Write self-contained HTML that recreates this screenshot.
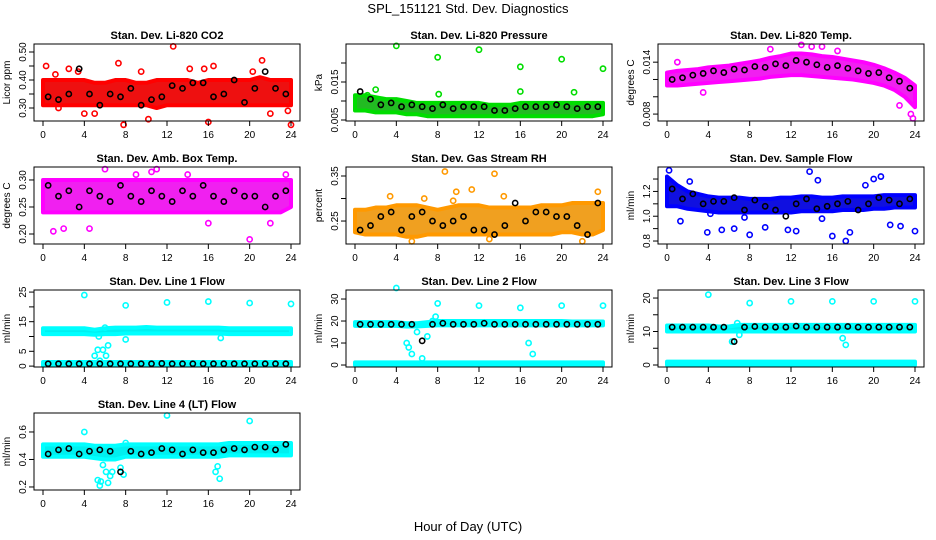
<!DOCTYPE html>
<html><head><meta charset="utf-8"><style>
body{margin:0;background:#fff}
svg{display:block;font-family:"Liberation Sans",Arial,sans-serif}
</style></head><body>
<svg id="c" width="936" height="540" viewBox="0 0 936 540" xmlns="http://www.w3.org/2000/svg">
<text x="468" y="13" text-anchor="middle" font-size="13">SPL_151121  Std. Dev. Diagnostics</text>
<text x="468" y="531" text-anchor="middle" font-size="13">Hour of Day (UTC)</text>
</svg>
<script>
const hours=[0,1,2,3,4,5,6,7,8,9,10,11,12,13,14,15,16,17,18,19,20,21,22,23,24];
const blackHours=[0.5,1.5,2.5,3.5,4.5,5.5,6.5,7.5,8.5,9.5,10.5,11.5,12.5,13.5,14.5,15.5,16.5,17.5,18.5,19.5,20.5,21.5,22.5,23.5];
const xTicks=[0,4,8,12,16,20,24];

const co2Lo=[0.31,0.31,0.31,0.31,0.31,0.31,0.31,0.31,0.31,0.31,0.31,0.30,0.31,0.31,0.31,0.31,0.31,0.31,0.31,0.31,0.31,0.31,0.31,0.31,0.31];
const co2Hi=[0.40,0.40,0.40,0.40,0.40,0.39,0.39,0.40,0.40,0.39,0.39,0.40,0.40,0.40,0.40,0.39,0.40,0.40,0.40,0.40,0.40,0.41,0.40,0.40,0.40];
const co2OutX=[0.3,1.2,2.5,3.4,7.3,7.8,9.5,10.2,12.6,14.2,15.6,16.0,16.5,21.2,20.3,22.0,24.0,4.0,5.0,1.5,23.7];
const co2OutY=[0.45,0.42,0.44,0.43,0.46,0.24,0.43,0.26,0.52,0.44,0.44,0.25,0.45,0.47,0.43,0.28,0.24,0.28,0.28,0.30,0.29];
const co2Black=[0.34,0.33,0.35,0.44,0.35,0.31,0.35,0.34,0.37,0.31,0.33,0.34,0.38,0.37,0.39,0.39,0.34,0.35,0.40,0.32,0.37,0.43,0.37,0.35];

const presLo=[0.0075,0.0075,0.007,0.007,0.007,0.0065,0.0065,0.006,0.006,0.006,0.006,0.006,0.006,0.006,0.006,0.006,0.006,0.006,0.006,0.006,0.006,0.006,0.006,0.006,0.0065];
const presHi=[0.0115,0.0115,0.011,0.0105,0.0105,0.010,0.0095,0.0095,0.0095,0.0095,0.0095,0.0095,0.0095,0.009,0.009,0.009,0.0095,0.0095,0.0095,0.0095,0.0095,0.0095,0.0095,0.0095,0.0095];
const presOutX=[4,8,12,16,20,24,2,16,21.2,8.1,1.2];
const presOutY=[0.0245,0.0215,0.0235,0.019,0.021,0.0185,0.013,0.0125,0.0123,0.0118,0.0115];
const presBlack=[0.0125,0.0105,0.009,0.0095,0.0085,0.009,0.0085,0.008,0.009,0.008,0.0085,0.0085,0.0085,0.0075,0.0075,0.008,0.0085,0.0085,0.0085,0.009,0.0085,0.008,0.0085,0.0085];

const tempLo=[0.0113,0.0113,0.0114,0.0115,0.0116,0.0117,0.0118,0.0119,0.0120,0.0121,0.0123,0.0124,0.0125,0.0125,0.0124,0.0123,0.0122,0.0121,0.0120,0.0118,0.0116,0.0113,0.0108,0.0100,0.0088];
const tempHi=[0.0128,0.0130,0.0131,0.0132,0.0134,0.0135,0.0136,0.0138,0.0140,0.0142,0.0145,0.0147,0.0150,0.0150,0.0149,0.0147,0.0146,0.0144,0.0142,0.0140,0.0137,0.0133,0.0128,0.0122,0.0113];
const tempOutX=[13,15,23.8,22.5,3.5,10,16.5,1,14,23.6];
const tempOutY=[0.0160,0.0158,0.0075,0.0090,0.0105,0.0155,0.0153,0.0140,0.0158,0.0080];
const tempBlack=[0.0120,0.0122,0.0125,0.0127,0.0130,0.0128,0.0132,0.0131,0.0135,0.0134,0.0138,0.0136,0.0142,0.0140,0.0137,0.0134,0.0136,0.0133,0.0130,0.0127,0.0128,0.0122,0.0118,0.0110];

const ambLo=[0.24,0.24,0.24,0.24,0.24,0.24,0.24,0.24,0.24,0.24,0.24,0.24,0.24,0.24,0.24,0.24,0.24,0.24,0.24,0.24,0.24,0.24,0.24,0.24,0.25];
const ambHi=[0.30,0.30,0.30,0.30,0.30,0.30,0.30,0.30,0.30,0.30,0.30,0.30,0.30,0.30,0.30,0.30,0.30,0.30,0.30,0.30,0.30,0.30,0.30,0.30,0.30];
const ambOutX=[20,1,11,9,2,4.5,22,16,6,14,23.5,10.5];
const ambOutY=[0.19,0.205,0.32,0.31,0.21,0.21,0.22,0.22,0.32,0.31,0.31,0.315];
const ambBlack=[0.29,0.27,0.28,0.25,0.28,0.27,0.26,0.29,0.27,0.26,0.28,0.27,0.26,0.28,0.27,0.29,0.27,0.26,0.28,0.27,0.27,0.25,0.27,0.28];

const rhLo=[0.225,0.22,0.22,0.22,0.22,0.215,0.215,0.22,0.22,0.22,0.22,0.22,0.22,0.22,0.22,0.22,0.22,0.22,0.22,0.22,0.225,0.225,0.22,0.22,0.23];
const rhHi=[0.275,0.275,0.28,0.28,0.285,0.285,0.285,0.28,0.275,0.28,0.285,0.285,0.285,0.28,0.28,0.28,0.28,0.28,0.285,0.285,0.285,0.29,0.29,0.29,0.29];
const rhOutX=[8.7,13.5,11.3,9.8,23.5,9.5,3.4,5.5,13,22,6.7,14.4];
const rhOutY=[0.36,0.355,0.32,0.315,0.315,0.295,0.305,0.205,0.21,0.205,0.30,0.305];
const rhBlack=[0.23,0.24,0.26,0.27,0.23,0.26,0.27,0.25,0.24,0.25,0.26,0.23,0.23,0.22,0.24,0.29,0.25,0.27,0.27,0.26,0.26,0.24,0.22,0.29];

const flowLo=[1.08,1.08,1.06,1.05,1.04,1.03,1.03,1.03,1.03,1.03,1.03,1.03,1.03,1.04,1.04,1.04,1.04,1.05,1.05,1.05,1.06,1.06,1.07,1.07,1.07];
const flowHi=[1.32,1.25,1.2,1.18,1.16,1.15,1.15,1.15,1.14,1.14,1.14,1.15,1.15,1.16,1.16,1.15,1.15,1.16,1.16,1.16,1.16,1.17,1.17,1.17,1.17];
const flowOutX=[1.3,3.9,5.3,6.5,8,9.5,11.7,12.5,13.8,16,17.3,17.7,20,20.7,21.6,22.6,24,0.2,4.2,7.5,15,19.2,2.2,14.6];
const flowOutY=[0.96,0.87,0.89,0.90,0.85,0.91,0.89,0.88,1.36,0.84,0.80,0.87,1.30,1.32,0.93,0.92,0.88,1.37,1.02,0.99,0.98,1.25,1.28,1.29];
const flowBlack=[1.22,1.14,1.18,1.10,1.12,1.12,1.15,1.05,1.13,1.08,1.05,1.00,1.10,1.14,1.06,1.08,1.10,1.12,1.05,1.10,1.15,1.13,1.10,1.14];

const l1Lo=[10.8,10.8,10.8,10.8,10.8,10.6,10.8,10.8,11,11,11,11,11,11,11,11,11,11,10.8,10.8,10.8,10.8,10.8,10.8,10.8];
const l1Hi=[12.8,12.8,12.8,12.8,12.8,12.3,12.8,13,13,13,13.2,13,13,13,13,13,13,13,12.8,12.8,12.8,12.8,12.8,12.8,12.8];
const l1Lo2=[0.2,0.2,0.2,0.2,0.2,0.2,0.2,0.2,0.2,0.2,0.2,0.2,0.2,0.2,0.2,0.2,0.2,0.2,0.2,0.2,0.2,0.2,0.2,0.2,0.2];
const l1Hi2=[1.4,1.4,1.4,1.4,1.4,1.4,1.4,1.4,1.4,1.4,1.4,1.4,1.4,1.4,1.4,1.4,1.4,1.4,1.4,1.4,1.4,1.4,1.4,1.4,1.4];
const l1OutX=[4,8,12,16,20,24,5,5.3,5.8,6.3,6.1,5.4,8,17.2,6,5.5];
const l1OutY=[24,20.5,21.5,21.8,21.3,21,3.5,5.5,5.5,7,3.5,10,9,9.5,13,1.8];
const l1Black=[0.8,0.8,0.8,0.8,0.8,0.8,0.8,0.8,0.8,0.8,0.8,0.9,0.8,0.8,0.8,0.8,0.8,0.8,0.8,0.8,0.8,0.8,0.8,0.8];

const l2Lo=[17.8,17.8,17.8,17.8,17.8,17.5,17.5,17.8,18,18,18,18,18,18,18,18,18,18,18,18,18,18,18,18,18];
const l2Hi=[19.5,19.5,19.5,19.5,19.5,19,19,19.5,20,20,20,20,20,20,20,20,20,20,20,20,20,19.8,19.8,19.8,19.8];
const l2Lo2=[0,0,0,0,0,0,0,0,0,0,0,0,0,0,0,0,0,0,0,0,0,0,0,0,0];
const l2Hi2=[1.2,1.2,1.2,1.2,1.2,1.2,1.2,1.2,1.2,1.2,1.2,1.2,1.2,1.2,1.2,1.2,1.2,1.2,1.2,1.2,1.2,1.2,1.2,1.2,1.2];
const l2OutX=[4,8,12,16,20,24,5,5.5,6,7.5,16.8,17.2,6.5,5.2,7.8,7];
const l2OutY=[35,28,27,26,27,27,10,5,15,20,10,5,3,8,22,13];
const l2Black=[18.5,18.5,18.5,18.5,18.5,18.5,11,18.5,19,18.5,18.5,18.5,19,18.5,18.5,18.5,18.5,18.5,18.5,18.5,18.5,18.5,18.5,18.5];

const l3Lo=[10,10,10,10,10,10,10,10,10,10,10,10,10,10,10,10,10,10,10,10,10,10,10,10,10];
const l3Hi=[11.8,11.8,11.8,11.8,11.8,11.5,11.5,12,12,12,12,12,12,12,12,12,12,12,12,12,12,12,12,12,12];
const l3Lo2=[0,0,0,0,0,0,0,0,0,0,0,0,0,0,0,0,0,0,0,0,0,0,0,0,0];
const l3Hi2=[1,1,1,1,1,1,1,1,1,1,1,1,1,1,1,1,1,1,1,1,1,1,1,1,1];
const l3OutX=[4,8,12,16,20,24,6.3,7,17,6.8,17.3];
const l3OutY=[21,18.5,19,19,19,19,7,9,8,12.5,6];
const l3Black=[11.3,11.3,11.3,11.3,11.3,11.3,7,11.3,11.5,11.3,11.3,11.3,11.6,11.3,11.3,11.3,11.3,11.5,11.3,11.3,11.3,11.3,11.3,11.3];

const l4Lo=[0.42,0.42,0.42,0.42,0.42,0.41,0.40,0.40,0.42,0.42,0.42,0.42,0.42,0.42,0.42,0.42,0.42,0.42,0.43,0.43,0.43,0.43,0.43,0.43,0.43];
const l4Hi=[0.51,0.51,0.51,0.51,0.51,0.50,0.50,0.50,0.51,0.51,0.51,0.51,0.51,0.51,0.51,0.51,0.51,0.51,0.52,0.52,0.52,0.52,0.52,0.52,0.52];
const l4OutX=[5.3,5.5,5.6,6.1,6.3,6.5,6.7,7.8,16.7,16.9,17.1,4,12,20,5.8,7.5,8];
const l4OutY=[0.25,0.21,0.24,0.31,0.23,0.28,0.31,0.29,0.31,0.35,0.26,0.60,0.72,0.68,0.36,0.34,0.52];
const l4Black=[0.44,0.47,0.48,0.44,0.46,0.47,0.46,0.31,0.46,0.44,0.45,0.48,0.47,0.44,0.47,0.45,0.45,0.47,0.48,0.47,0.49,0.49,0.47,0.51];

const panels=[
 {name:"co2",title:"Stan. Dev. Li-820 CO2",ylab:"Licor ppm",col:0,row:0,ymin:0.2536,ymax:0.5286,ticks:[0.30,0.35,0.40,0.45,0.50],labels:["0.30","","0.40","","0.50"],color:"#ff0000",band:"#ee1010",lo:co2Lo,hi:co2Hi,ox:co2OutX,oy:co2OutY,bk:co2Black},
 {name:"pressure",title:"Stan. Dev. Li-820 Pressure",ylab:"kPa",col:1,row:0,ymin:0.00474,ymax:0.0250,ticks:[0.005,0.010,0.015,0.020],labels:["0.005","","0.015",""],color:"#00dd00",band:"#22bb22",lo:presLo,hi:presHi,ox:presOutX,oy:presOutY,bk:presBlack},
 {name:"temp",title:"Stan. Dev. Li-820 Temp.",ylab:"degrees C",col:2,row:0,ymin:0.0072,ymax:0.0161,ticks:[0.008,0.010,0.012,0.014],labels:["0.008","","","0.014"],color:"#ff00ff",band:"#f020f0",lo:tempLo,hi:tempHi,ox:tempOutX,oy:tempOutY,bk:tempBlack},
 {name:"amb-box-temp",title:"Stan. Dev. Amb. Box Temp.",ylab:"degrees C",col:0,row:1,ymin:0.1815,ymax:0.324,ticks:[0.20,0.25,0.30],labels:["0.20","0.25","0.30"],color:"#ff00ff",band:"#f020f0",lo:ambLo,hi:ambHi,ox:ambOutX,oy:ambOutY,bk:ambBlack},
 {name:"gas-rh",title:"Stan. Dev. Gas Stream RH",ylab:"percent",col:1,row:1,ymin:0.199,ymax:0.37,ticks:[0.25,0.30,0.35],labels:["0.25","","0.35"],color:"#ff9900",band:"#f0a020",lo:rhLo,hi:rhHi,ox:rhOutX,oy:rhOutY,bk:rhBlack},
 {name:"sample-flow",title:"Stan. Dev. Sample Flow",ylab:"ml/min",col:2,row:1,ymin:0.776,ymax:1.397,ticks:[0.8,0.9,1.0,1.1,1.2,1.3],labels:["0.8","","1.0","","1.2",""],color:"#0000ff",band:"#1010e0",lo:flowLo,hi:flowHi,ox:flowOutX,oy:flowOutY,bk:flowBlack},
 {name:"line1-flow",title:"Stan. Dev. Line 1 Flow",ylab:"ml/min",col:0,row:2,ymin:-0.3,ymax:25.7,ticks:[0,5,10,15,20,25],labels:["0","5","","15","","25"],color:"#00ffff",band:"#00f0f0",lo:l1Lo,hi:l1Hi,lo2:l1Lo2,hi2:l1Hi2,ox:l1OutX,oy:l1OutY,bk:l1Black},
 {name:"line2-flow",title:"Stan. Dev. Line 2 Flow",ylab:"ml/min",col:1,row:2,ymin:-0.9,ymax:34.1,ticks:[0,10,20,30],labels:["0","10","20","30"],color:"#00ffff",band:"#00f0f0",lo:l2Lo,hi:l2Hi,lo2:l2Lo2,hi2:l2Hi2,ox:l2OutX,oy:l2OutY,bk:l2Black},
 {name:"line3-flow",title:"Stan. Dev. Line 3 Flow",ylab:"ml/min",col:2,row:2,ymin:-0.6,ymax:22.4,ticks:[0,5,10,15,20],labels:["0","","10","","20"],color:"#00ffff",band:"#00f0f0",lo:l3Lo,hi:l3Hi,lo2:l3Lo2,hi2:l3Hi2,ox:l3OutX,oy:l3OutY,bk:l3Black},
 {name:"line4-flow",title:"Stan. Dev. Line 4 (LT) Flow",ylab:"ml/min",col:0,row:3,ymin:0.178,ymax:0.738,ticks:[0.2,0.4,0.6],labels:["0.2","0.4","0.6"],color:"#00ffff",band:"#00f0f0",lo:l4Lo,hi:l4Hi,ox:l4OutX,oy:l4OutY,bk:l4Black}
];
const NS="http://www.w3.org/2000/svg";
const svg=document.getElementById("c");
function mk(tag,attrs,parent){const e=document.createElementNS(NS,tag);for(const k in attrs)e.setAttribute(k,attrs[k]);parent.appendChild(e);return e;}
panels.forEach(p=>{
 const L=34+p.col*312, T=44+p.row*123, W=266, H=77;
 const g=mk("g",{},svg);
 
 
 const xs=h=>L+9+h*(248/24);
 const ys=v=>T+H-(v-p.ymin)/(p.ymax-p.ymin)*H;
 const t=mk("text",{x:L+W/2,y:T-5,"text-anchor":"middle","font-size":"11","font-weight":"bold"},g);t.textContent=p.title;
 
 
 const yl=mk("text",{x:0,y:0,"text-anchor":"middle","font-size":"10",transform:`translate(${L-24},${T+H/2}) rotate(-90)`},g);yl.textContent=p.ylab;
 
 
 const clip=mk("g",{},g);
 const bands=[[p.lo,p.hi]];if(p.lo2)bands.push([p.lo2,p.hi2]);
 bands.forEach(b=>{
  let pts=hours.map((h,i)=>xs(h)+","+ys(b[1][i]));
  pts=pts.concat(hours.slice().reverse().map((h,j)=>xs(h)+","+ys(b[0][hours.length-1-j])));
  const pg=mk("polygon",{points:pts.join(" "),fill:p.band,stroke:p.color,"stroke-width":"4","stroke-linejoin":"round"},clip);
  
  
 });
 p.ox.forEach((x,i)=>{const c=mk("circle",{cx:xs(x),cy:ys(p.oy[i]),r:2.6,fill:"none",stroke:p.color,"stroke-width":1.6},clip);
  
  });
 p.bk.forEach((v,i)=>{const c=mk("circle",{cx:xs(blackHours[i]),cy:ys(v),r:2.6,fill:"none",stroke:"#000","stroke-width":1.6},clip);
  
  });
 const box=mk("rect",{x:L,y:T,width:W,height:H,fill:"none",stroke:"#000","stroke-width":1},g);
 
 
 xTicks.forEach(h=>{mk("line",{x1:xs(h),x2:xs(h),y1:T+H,y2:T+H+5,stroke:"#000"},g);
  const tx=mk("text",{x:xs(h),y:T+H+17,"text-anchor":"middle","font-size":"10"},g);tx.textContent=h;
  
  });
 p.ticks.forEach((v,i)=>{const y=ys(v);mk("line",{x1:L-5,x2:L,y1:y,y2:y,stroke:"#000"},g);
  if(p.labels[i]){const ty=mk("text",{x:0,y:0,"text-anchor":"middle","font-size":"10",transform:`translate(${L-8},${y}) rotate(-90)`},g);ty.textContent=p.labels[i];
  
  }});
});
</script>
</body></html>
